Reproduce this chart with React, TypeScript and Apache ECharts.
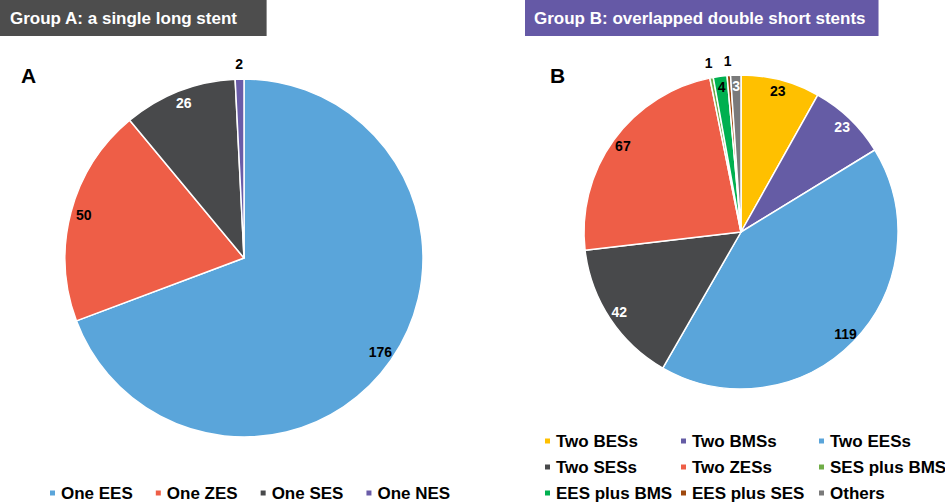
import React, { useEffect, useRef } from "react";
import * as echarts from "echarts";

const groupANames = ["One EES", "One ZES", "One SES", "One NES"];
const groupAValues = [176, 50, 26, 2];
const groupAColors = ["#5AA5DA", "#EE5E47", "#48494B", "#6A5CA8"];
const groupALabelColors = ["#000", "#000", "#fff", "#000"];
const groupAOutside = [false, false, false, true];

const groupBNames = [
  "Two BESs",
  "Two BMSs",
  "Two EESs",
  "Two SESs",
  "Two ZESs",
  "SES plus BMS",
  "EES plus BMS",
  "EES plus SES",
  "Others",
];
const groupBValues = [23, 23, 119, 42, 67, 1, 4, 1, 3];
const groupBColors = [
  "#FFC000",
  "#655CA5",
  "#5AA5DA",
  "#48494B",
  "#EE5E47",
  "#70AD47",
  "#00B050",
  "#9E480E",
  "#7A7A7A",
];
const groupBLabelColors = ["#000", "#fff", "#000", "#fff", "#000", "#000", "#000", "#000", "#fff"];
const groupBOutside = [false, false, false, false, false, true, false, true, false];

const legendBColumns = [
  ["Two BESs", "Two SESs", "EES plus BMS"],
  ["Two BMSs", "Two ZESs", "EES plus SES"],
  ["Two EESs", "SES plus BMS", "Others"],
];

const FONT = "'Liberation Sans', Arial, sans-serif";

function buildSeries(
  names: string[],
  values: number[],
  colors: string[],
  labelColors: string[],
  outside: boolean[],
  center: number[],
  r: number
) {
  const main = {
    type: "pie",
    center,
    radius: [0, r],
    startAngle: 90,
    clockwise: true,
    label: { show: false },
    labelLine: { show: false },
    itemStyle: { borderColor: "#fff", borderWidth: 1.5 },
    emphasis: { disabled: true },
    data: names.map((n, i) => ({ name: n, value: values[i], itemStyle: { color: colors[i] } })),
  };
  const labelStyle = (i: number, show: boolean) => ({
    show,
    position: "inside",
    color: labelColors[i],
    fontSize: 14,
    fontWeight: "bold",
    fontFamily: FONT,
    formatter: "{c}",
  });
  const inner = {
    type: "pie",
    center,
    radius: [r * 0.82, r],
    startAngle: 90,
    clockwise: true,
    silent: true,
    legendHoverLink: false,
    emphasis: { disabled: true },
    labelLine: { show: false },
    itemStyle: { color: "transparent", borderWidth: 0 },
    data: names.map((n, i) => ({
      name: n,
      value: values[i],
      itemStyle: { color: "transparent" },
      label: labelStyle(i, !outside[i]),
    })),
  };
  const outer = {
    type: "pie",
    center,
    radius: [r, r + 24],
    startAngle: 90,
    clockwise: true,
    silent: true,
    legendHoverLink: false,
    emphasis: { disabled: true },
    labelLine: { show: false },
    itemStyle: { color: "transparent", borderWidth: 0 },
    data: names.map((n, i) => ({
      name: n,
      value: values[i],
      itemStyle: { color: "transparent" },
      label: labelStyle(i, outside[i]),
    })),
  };
  return [main, inner, outer];
}

export default function App() {
  const ref = useRef<HTMLDivElement>(null);
  useEffect(() => {
    if (!ref.current) return;
    const chart = echarts.init(ref.current, undefined, { renderer: "svg" });
    const legendText = { fontSize: 17, fontWeight: "bold", color: "#000", fontFamily: FONT, lineHeight: 20 };
    const option = {
      animation: false,
      backgroundColor: "#fff",
      title: [
        {
          text: "Group A: a single long stent",
          left: 0,
          top: 0,
          backgroundColor: "#4D4D4D",
          padding: [9, 29, 9, 10],
          textStyle: { color: "#fff", fontSize: 17, fontWeight: "bold", fontFamily: FONT, lineHeight: 18 },
        },
        {
          text: "Group B: overlapped double short stents",
          left: 525,
          top: 0,
          backgroundColor: "#6559A6",
          padding: [9, 13, 9, 9],
          textStyle: { color: "#fff", fontSize: 17, fontWeight: "bold", fontFamily: FONT, lineHeight: 18 },
        },
      ],
      graphic: [
        {
          type: "text",
          x: 21,
          y: 75,
          style: { text: "A", fill: "#000", font: `bold 21px ${FONT}`, textVerticalAlign: "middle" },
        },
        {
          type: "text",
          x: 550,
          y: 75,
          style: { text: "B", fill: "#000", font: `bold 21px ${FONT}`, textVerticalAlign: "middle" },
        },
      ],
      legend: [
        {
          orient: "horizontal",
          left: 48,
          top: 483,
          padding: 0,
          itemGap: 21,
          itemWidth: 7,
          itemHeight: 7,
          icon: "rect",
          data: groupANames,
          textStyle: legendText,
          selectedMode: false,
        },
        ...legendBColumns.map((col, ci) => ({
          orient: "vertical",
          left: [543, 679, 817][ci],
          top: 431,
          padding: 0,
          itemGap: 6,
          itemWidth: 7,
          itemHeight: 7,
          icon: "rect",
          data: col,
          textStyle: legendText,
          selectedMode: false,
        })),
      ],
      series: [
        ...buildSeries(groupANames, groupAValues, groupAColors, groupALabelColors, groupAOutside, [244, 258], 179),
        ...buildSeries(groupBNames, groupBValues, groupBColors, groupBLabelColors, groupBOutside, [741, 232], 157),
      ],
    };
    chart.setOption(option as any);
    return () => chart.dispose();
  }, []);
  return (
    <div
      ref={ref}
      style={{ position: "absolute", left: 0, top: 0, width: 945, height: 504 }}
    />
  );
}
